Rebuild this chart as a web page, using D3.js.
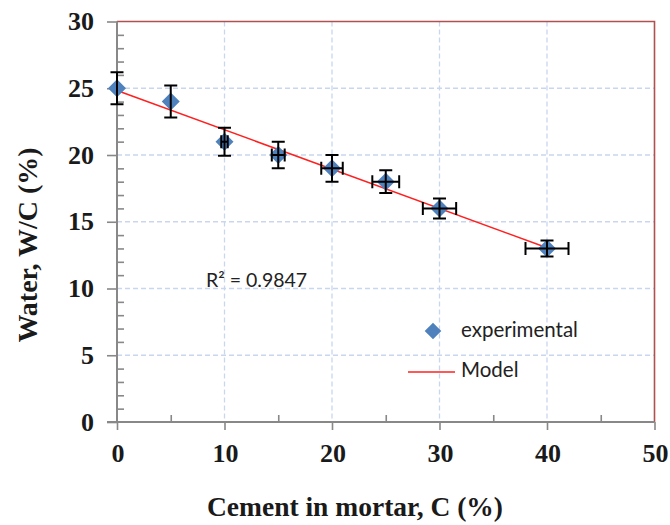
<!DOCTYPE html>
<html><head><meta charset="utf-8">
<script src="https://cdn.jsdelivr.net/npm/d3@7"></script>
<style>body{margin:0;background:#fff}</style>
</head><body><svg id="c" width="670" height="525"></svg>
<script>
const cement = [0, 5, 10, 15, 20, 25, 30, 40];
const water = [25, 24, 21, 20, 19, 18, 16, 13];
const waterErr = [1.2, 1.2, 1.05, 1.0, 1.0, 0.85, 0.75, 0.6];
const cementErr = [0, 0, 0.3, 0.6, 1.0, 1.25, 1.55, 2.0];
const modelX = [0, 40];
const modelY = [24.84, 13.05];
const xTicks = [0, 10, 20, 30, 40, 50];
const yTicks = [0, 5, 10, 15, 20, 25, 30];
const r2Label = "R² = 0.9847";

const svg = d3.select("#c");
const x = d3.scaleLinear().domain([0, 50]).range([117, 654.5]);
const y = d3.scaleLinear().domain([0, 30]).range([422, 21.5]);
const serif = "Liberation Serif, Times New Roman, serif";
const sans = "Lato, Open Sans, sans-serif";

// gridlines
const grid = svg.append("g").attr("stroke", "#c9d6f0").attr("stroke-width", 1.3).attr("stroke-dasharray", "5,3");
xTicks.filter(d => d > 0 && d < 50).forEach(d => grid.append("line").attr("x1", x(d)).attr("x2", x(d)).attr("y1", y(30)).attr("y2", y(0)));
yTicks.filter(d => d > 0 && d < 30).forEach(d => grid.append("line").attr("x1", x(0)).attr("x2", x(50)).attr("y1", y(d)).attr("y2", y(d)));

// border top/right
svg.append("path").attr("d", `M${x(0)},${y(30)}H${x(50)}V${y(0)}`).attr("fill", "none").attr("stroke", "#b0504f").attr("stroke-width", 1.6);

// axes
const axisColor = "#888";
const yAxis = svg.append("g").attr("transform", `translate(${x(0)},0)`)
  .call(d3.axisLeft(y).tickValues(d3.range(0, 31, 1)).tickSize(0).tickFormat(""));
yAxis.select(".domain").remove();
yAxis.append("line").attr("x1", 0).attr("x2", 0).attr("y1", y(0)).attr("y2", y(30)).attr("stroke", axisColor).attr("stroke-width", 2);
yAxis.selectAll(".tick line").each(function(d) {
  const major = d % 5 === 0;
  d3.select(this).attr("stroke", axisColor).attr("stroke-width", 1.6)
    .attr("x1", major ? -10 : 0).attr("x2", major ? 0 : 7);
});
yTicks.forEach(d => svg.append("text").attr("x", 94).attr("y", y(d) + 8.5)
  .attr("text-anchor", "end").attr("font-family", serif).attr("font-weight", "bold")
  .attr("font-size", 26).attr("fill", "#1a1a1a").text(d));

const xAxis = svg.append("g").attr("transform", `translate(0,${y(0)})`)
  .call(d3.axisBottom(x).tickValues(d3.range(0, 51, 5)).tickSize(0).tickFormat(""));
xAxis.select(".domain").remove();
xAxis.append("line").attr("x1", x(0) - 10).attr("x2", x(50)).attr("y1", 0).attr("y2", 0).attr("stroke", axisColor).attr("stroke-width", 2);
xAxis.selectAll(".tick line").each(function(d) {
  const major = d % 10 === 0;
  d3.select(this).attr("stroke", axisColor).attr("stroke-width", 1.6)
    .attr("y1", major ? 8 : 0).attr("y2", major ? 0 : -7);
});
xTicks.forEach(d => svg.append("text").attr("x", x(d) + 1).attr("y", 462)
  .attr("text-anchor", "middle").attr("font-family", serif).attr("font-weight", "bold")
  .attr("font-size", 26).attr("fill", "#1a1a1a").text(d));

// titles
svg.append("text").attr("x", 355).attr("y", 516).attr("text-anchor", "middle")
  .attr("font-family", serif).attr("font-weight", "bold").attr("font-size", 27.5)
  .attr("fill", "#1a1a1a").text("Cement in mortar, C (%)");
svg.append("text").attr("transform", "translate(37,245) rotate(-90)").attr("text-anchor", "middle")
  .attr("font-family", serif).attr("font-weight", "bold").attr("font-size", 28)
  .attr("fill", "#1a1a1a").text("Water, W/C (%)");

// model line
svg.append("path").datum(modelX.map((d, i) => [d, modelY[i]]))
  .attr("d", d3.line().x(d => x(d[0])).y(d => y(d[1])))
  .attr("stroke", "#ff2020").attr("stroke-width", 1.6).attr("fill", "none");

// markers
const pts = cement.map((c, i) => ({c, w: water[i], ew: waterErr[i], ec: cementErr[i]}));
const dia = (cx, cy, r) => `M${cx},${cy - r}L${cx + r},${cy}L${cx},${cy + r}L${cx - r},${cy}Z`;
svg.append("g").selectAll("path").data(pts).join("path")
  .attr("d", d => dia(x(d.c), y(d.w), 9)).attr("fill", "#4f81bd");

// error bars
const eb = svg.append("g").attr("stroke", "#000").attr("stroke-width", 2).attr("fill", "none");
const cap = 6.5;
pts.forEach(d => {
  const cx = x(d.c), cy = y(d.w);
  const t = y(d.w + d.ew), b = y(d.w - d.ew);
  eb.append("path").attr("d", `M${cx},${t}V${b}M${cx - cap},${t}H${cx + cap}M${cx - cap},${b}H${cx + cap}`);
  if (d.ec > 0) {
    const l = x(d.c - d.ec), r = x(d.c + d.ec);
    eb.append("path").attr("d", `M${l},${cy}H${r}M${l},${cy - cap}V${cy + cap}M${r},${cy - cap}V${cy + cap}`);
  }
});

// R2 label
svg.append("text").attr("x", 206).attr("y", 287).attr("font-family", sans)
  .attr("font-size", 19.5).attr("fill", "#222").text(r2Label);

// legend
svg.append("path").attr("d", dia(433, 331, 8.3)).attr("fill", "#4f81bd");
svg.append("text").attr("x", 461).attr("y", 337).attr("font-family", sans)
  .attr("font-size", 20.5).attr("fill", "#222").text("experimental");
svg.append("line").attr("x1", 408).attr("x2", 455).attr("y1", 372).attr("y2", 372)
  .attr("stroke", "#ff2020").attr("stroke-width", 1.6);
svg.append("text").attr("x", 461).attr("y", 377).attr("font-family", sans)
  .attr("font-size", 20.5).attr("fill", "#222").text("Model");
</script></body></html>
